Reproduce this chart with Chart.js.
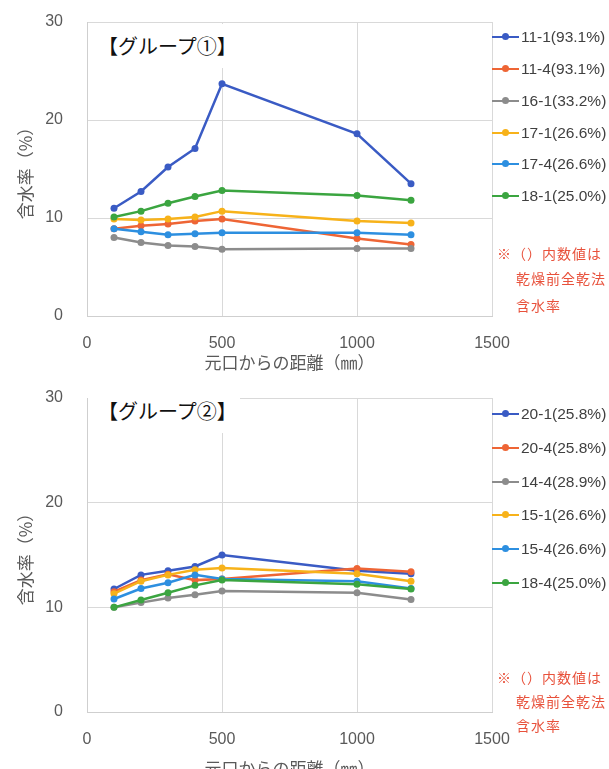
<!DOCTYPE html>
<html>
<head>
<meta charset="utf-8">
<script src="https://cdn.jsdelivr.net/npm/chart.js@4"></script>
<style>
  html, body { margin: 0; padding: 0; background: #fff; }
  body { width: 609px; height: 769px; overflow: hidden; position: relative; }
  canvas { position: absolute; left: 0; }
  .group { position: absolute; left: 88px; width: 152px; height: 44px; background: #fff;
           font-family: "Noto Sans CJK JP", sans-serif; font-size: 20px; color: #111;
           box-sizing: border-box; padding-left: 10px; line-height: 44px; }
  .leg { position: absolute; left: 492px; height: 20px; display: flex; align-items: center;
         font-family: "Liberation Sans", sans-serif; font-size: 15.5px; color: #404040; }
  .mk { position: relative; width: 27px; height: 2.5px; margin-right: 2px; }
  .mk i { position: absolute; left: 10px; top: -2.5px; width: 7px; height: 7px; border-radius: 50%; }
  .note { position: absolute; font-family: "Noto Sans CJK JP", sans-serif; font-size: 14px;
          color: #e8513b; letter-spacing: 1px; white-space: nowrap; line-height: 20px; }
</style>
</head>
<body>
<canvas id="c1" width="609" height="380" style="top:0"></canvas>
<canvas id="c2" width="609" height="400" style="top:380px"></canvas>
<div class="group" style="top:24px">【グループ①】</div>
<div class="group" style="top:389px">【グループ②】</div>

<script>
// 元口からの距離 (mm)
const distances = [100, 200, 300, 400, 500, 1000, 1200];

// グループ①
const labels1 = ["11-1(93.1%)", "11-4(93.1%)", "16-1(33.2%)", "17-1(26.6%)", "17-4(26.6%)", "18-1(25.0%)"];
const s11_1 = [11.0, 12.7, 15.2, 17.1, 23.7, 18.6, 13.5];
const s11_4 = [8.9, 9.2, 9.4, 9.7, 9.9, 7.9, 7.3];
const s16_1 = [8.0, 7.5, 7.2, 7.1, 6.8, 6.9, 6.9];
const s17_1 = [9.9, 9.8, 9.9, 10.1, 10.7, 9.7, 9.5];
const s17_4 = [8.9, 8.6, 8.3, 8.4, 8.5, 8.5, 8.3];
const s18_1 = [10.1, 10.7, 11.5, 12.2, 12.8, 12.3, 11.8];

// グループ②
const labels2 = ["20-1(25.8%)", "20-4(25.8%)", "14-4(28.9%)", "15-1(26.6%)", "15-4(26.6%)", "18-4(25.0%)"];
const s20_1 = [11.75, 13.1, 13.5, 13.9, 15.0, 13.5, 13.2];
const s20_4 = [11.5, 12.6, 13.15, 12.6, 12.7, 13.7, 13.4];
const s14_4 = [10.0, 10.45, 10.9, 11.2, 11.55, 11.4, 10.75];
const s15_1 = [11.3, 12.5, 13.1, 13.6, 13.75, 13.2, 12.5];
const s15_4 = [10.8, 11.8, 12.35, 13.1, 12.7, 12.5, 11.8];
const s18_4 = [10.0, 10.7, 11.4, 12.1, 12.6, 12.2, 11.75];

const yTicks = [0, 10, 20, 30];
const xTicks = [0, 500, 1000, 1500];
const noteLines = ["※（）内数値は", "乾燥前全乾法", "含水率"];

const colors = ["#3a5bc4", "#ee6535", "#8c8c8c", "#f7b21a", "#2d8fe0", "#3ba540"];
const jp = '"Noto Sans CJK JP", sans-serif';

function makeDatasets(labels, series) {
  return series.map((vals, i) => ({
    label: labels[i],
    data: vals.map((v, k) => ({ x: distances[k], y: v })),
    borderColor: colors[i],
    backgroundColor: colors[i],
    borderWidth: 2.5,
    pointRadius: 3.5,
    pointBorderWidth: 0,
    tension: 0,
    order: series.length - i   // Excel 風に後の系列を上に
  }));
}

function makeChart(id, labels, series, g) {
  return new Chart(document.getElementById(id), {
    type: "line",
    data: { datasets: makeDatasets(labels, series) },
    options: {
      responsive: false,
      animation: false,
      layout: { padding: { top: g.top, right: 117, left: 0, bottom: 0 } },
      plugins: { legend: { display: false }, tooltip: { enabled: false } },
      scales: {
        x: {
          type: "linear", min: xTicks[0], max: xTicks[xTicks.length - 1],
          afterBuildTicks: s => { s.ticks = xTicks.map(v => ({ value: v })); },
          ticks: { padding: 18, color: "#595959", font: { size: 16, family: '"Liberation Sans", sans-serif' },
                   callback: v => String(v) },
          grid: { color: "#d9d9d9", drawTicks: false },
          border: { color: "#cfcfcf" },
          title: { display: true, text: "元口からの距離（㎜）", color: "#595959",
                   font: { size: 17, family: jp }, padding: { top: 0, bottom: g.titlePad } },
          afterFit: s => { s.height = g.canvasH - g.bottom; }
        },
        y: {
          min: yTicks[0], max: yTicks[yTicks.length - 1],
          afterBuildTicks: s => { s.ticks = yTicks.map(v => ({ value: v })); },
          ticks: { padding: 24, color: "#595959", font: { size: 16, family: '"Liberation Sans", sans-serif' } },
          grid: { color: "#d9d9d9", drawTicks: false },
          border: { color: "#cfcfcf" },
          title: { display: true, text: "含水率（%）", color: "#595959",
                   font: { size: 17, family: jp }, padding: { top: 15, bottom: 0 } },
          afterFit: s => { s.width = 87; s.paddingTop = 0; s.paddingBottom = 0; }
        }
      }
    }
  });
}

makeChart("c1", labels1, [s11_1, s11_4, s16_1, s17_1, s17_4, s18_1],
  { top: 22, bottom: 316, canvasH: 380, titlePad: 7 });
makeChart("c2", labels2, [s20_1, s20_4, s14_4, s15_1, s15_4, s18_4],
  { top: 18, bottom: 332, canvasH: 400, titlePad: 1 });

// 凡例と注記 (HTML)
function addLegend(labels, centers, noteY) {
  labels.forEach((t, i) => {
    const d = document.createElement("div");
    d.className = "leg";
    d.style.top = (centers[i] - 10) + "px";
    d.innerHTML = '<span class="mk" style="background:' + colors[i] + '"><i style="background:' +
      colors[i] + '"></i></span><span>' + t + '</span>';
    document.body.appendChild(d);
  });
  noteLines.forEach((t, i) => {
    const d = document.createElement("div");
    d.className = "note";
    d.style.left = (i === 0 ? 497 : 516) + "px";
    d.style.top = (noteY[i] - 10) + "px";
    d.textContent = t;
    document.body.appendChild(d);
  });
}

addLegend(labels1, [37, 69, 101, 133, 164, 196], [253, 278, 305]);
addLegend(labels2, [414, 448, 482, 515, 549, 583], [677, 701, 725]);
</script>
</body>
</html>
